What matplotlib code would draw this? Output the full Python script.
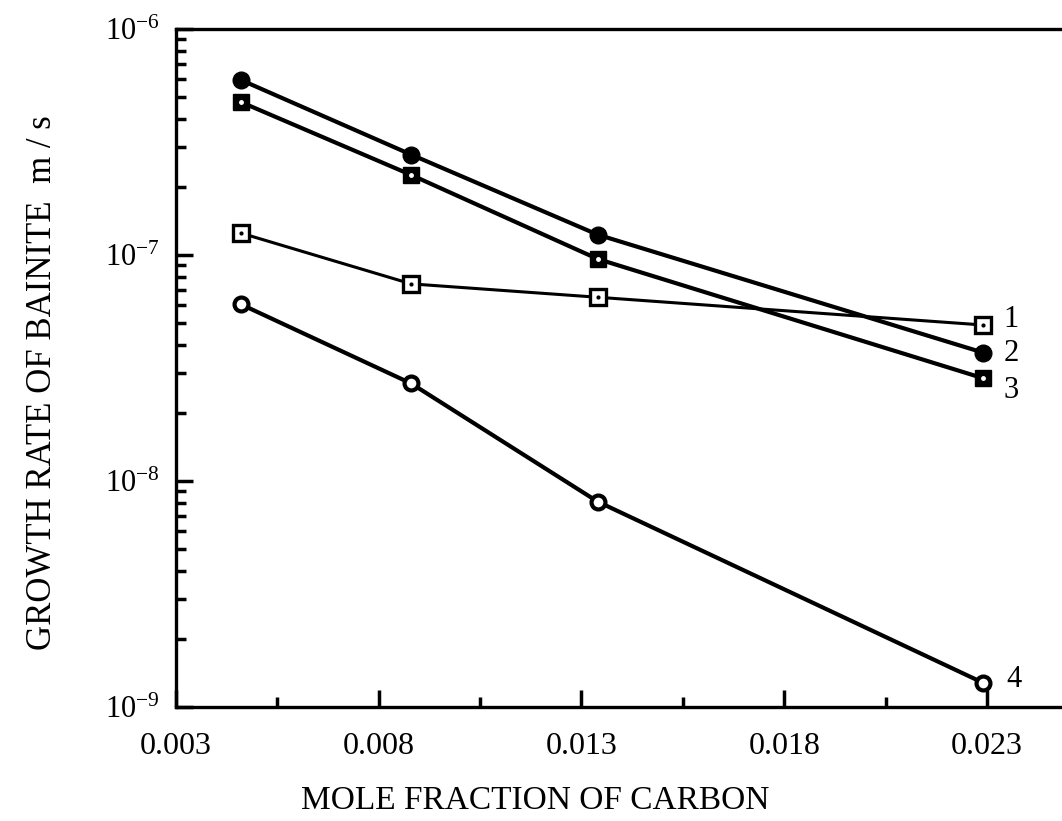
import matplotlib
matplotlib.use("Agg")
import matplotlib.pyplot as plt
from matplotlib.ticker import FixedLocator, NullFormatter, LogFormatterSciNotation

plt.rcParams['font.family'] = ['Liberation Serif', 'DejaVu Serif']
plt.rcParams['mathtext.fontset'] = 'custom'
plt.rcParams['mathtext.rm'] = 'Liberation Serif'

# mole fraction of carbon
x = [0.0046, 0.0088, 0.0134, 0.0229]

# growth rate of bainite, m/s
curve1 = [1.25e-7, 7.45e-8, 6.5e-8, 4.9e-8]
curve2 = [5.95e-7, 2.78e-7, 1.23e-7, 3.7e-8]
curve3 = [4.75e-7, 2.26e-7, 9.6e-8, 2.85e-8]
curve4 = [6.05e-8, 2.7e-8, 8.1e-9, 1.28e-9]

labels = ['1', '2', '3', '4']
xticks = [0.003, 0.008, 0.013, 0.018, 0.023]
xtick_labels = ['0.003', '0.008', '0.013', '0.018', '0.023']
yticks = [1e-9, 1e-8, 1e-7, 1e-6]

fig = plt.figure(figsize=(10.62, 8.21), dpi=100)
ax = fig.add_axes([0.1657, 0.1389, 0.8343, 0.8258])

lw = 3.0
# curve 1: open square with dot
ax.plot(x, curve1, '-', color='black', lw=2.2, marker='s', ms=11, mfc='white', mec='black', mew=2.4, zorder=3)
ax.plot(x, curve1, ' ', marker='.', ms=4, color='black', zorder=4)
# curve 2: filled diamond
ax.plot(x, curve2, '-', color='black', lw=lw, marker='o', ms=12, mfc='black', mec='black', zorder=3)
# curve 3: filled square with white dot
ax.plot(x, curve3, '-', color='black', lw=lw, marker='s', ms=12, mfc='black', mec='black', zorder=3)
ax.plot(x, curve3, ' ', marker='.', ms=5, color='white', zorder=4)
# curve 4: open circle
ax.plot(x, curve4, '-', color='black', lw=lw, marker='o', ms=10, mfc='white', mec='black', mew=3, zorder=3)

ends = [curve1[-1], curve2[-1], curve3[-1], curve4[-1]]
offs = [(15, 4), (15, -1), (15, -9), (17, 2)]
for lab, yv, off in zip(labels, ends, offs):
    ax.annotate(lab, (x[-1], yv), xytext=off, textcoords='offset points',
                fontsize=22, va='center', ha='left')

ax.set_yscale('log')
ax.set_ylim(1e-9, 1e-6)
ax.set_xlim(0.003, 0.02485)

ax.xaxis.set_major_locator(FixedLocator(xticks))
ax.xaxis.set_minor_locator(FixedLocator([0.0055, 0.0105, 0.0155, 0.0205]))
ax.set_xticklabels(xtick_labels)
ax.yaxis.set_major_locator(FixedLocator(yticks))
ax.yaxis.set_major_formatter(LogFormatterSciNotation())
ax.yaxis.set_minor_locator(FixedLocator([m * d for d in yticks[:-1] for m in range(2, 10)]))
ax.yaxis.set_minor_formatter(NullFormatter())

ax.tick_params(axis='x', which='major', direction='in', length=12, width=2.5, labelsize=23, pad=18)
ax.tick_params(axis='y', which='major', direction='in', length=12, width=2.5, labelsize=22, pad=12)
ax.tick_params(axis='both', which='minor', direction='in', length=7, width=2.5)
ax.tick_params(right=False, top=False, which='both')

for s in ['left', 'bottom', 'top']:
    ax.spines[s].set_linewidth(2.4)
ax.spines['right'].set_visible(False)

ax.set_xlabel('MOLE FRACTION OF CARBON', fontsize=24)
ax.xaxis.set_label_coords(0.405, -0.116)
ax.set_ylabel('GROWTH RATE OF BAINITE  m / s', fontsize=25)
ax.yaxis.set_label_coords(-0.132, 0.478)

fig.savefig('out.png', dpi=100)
